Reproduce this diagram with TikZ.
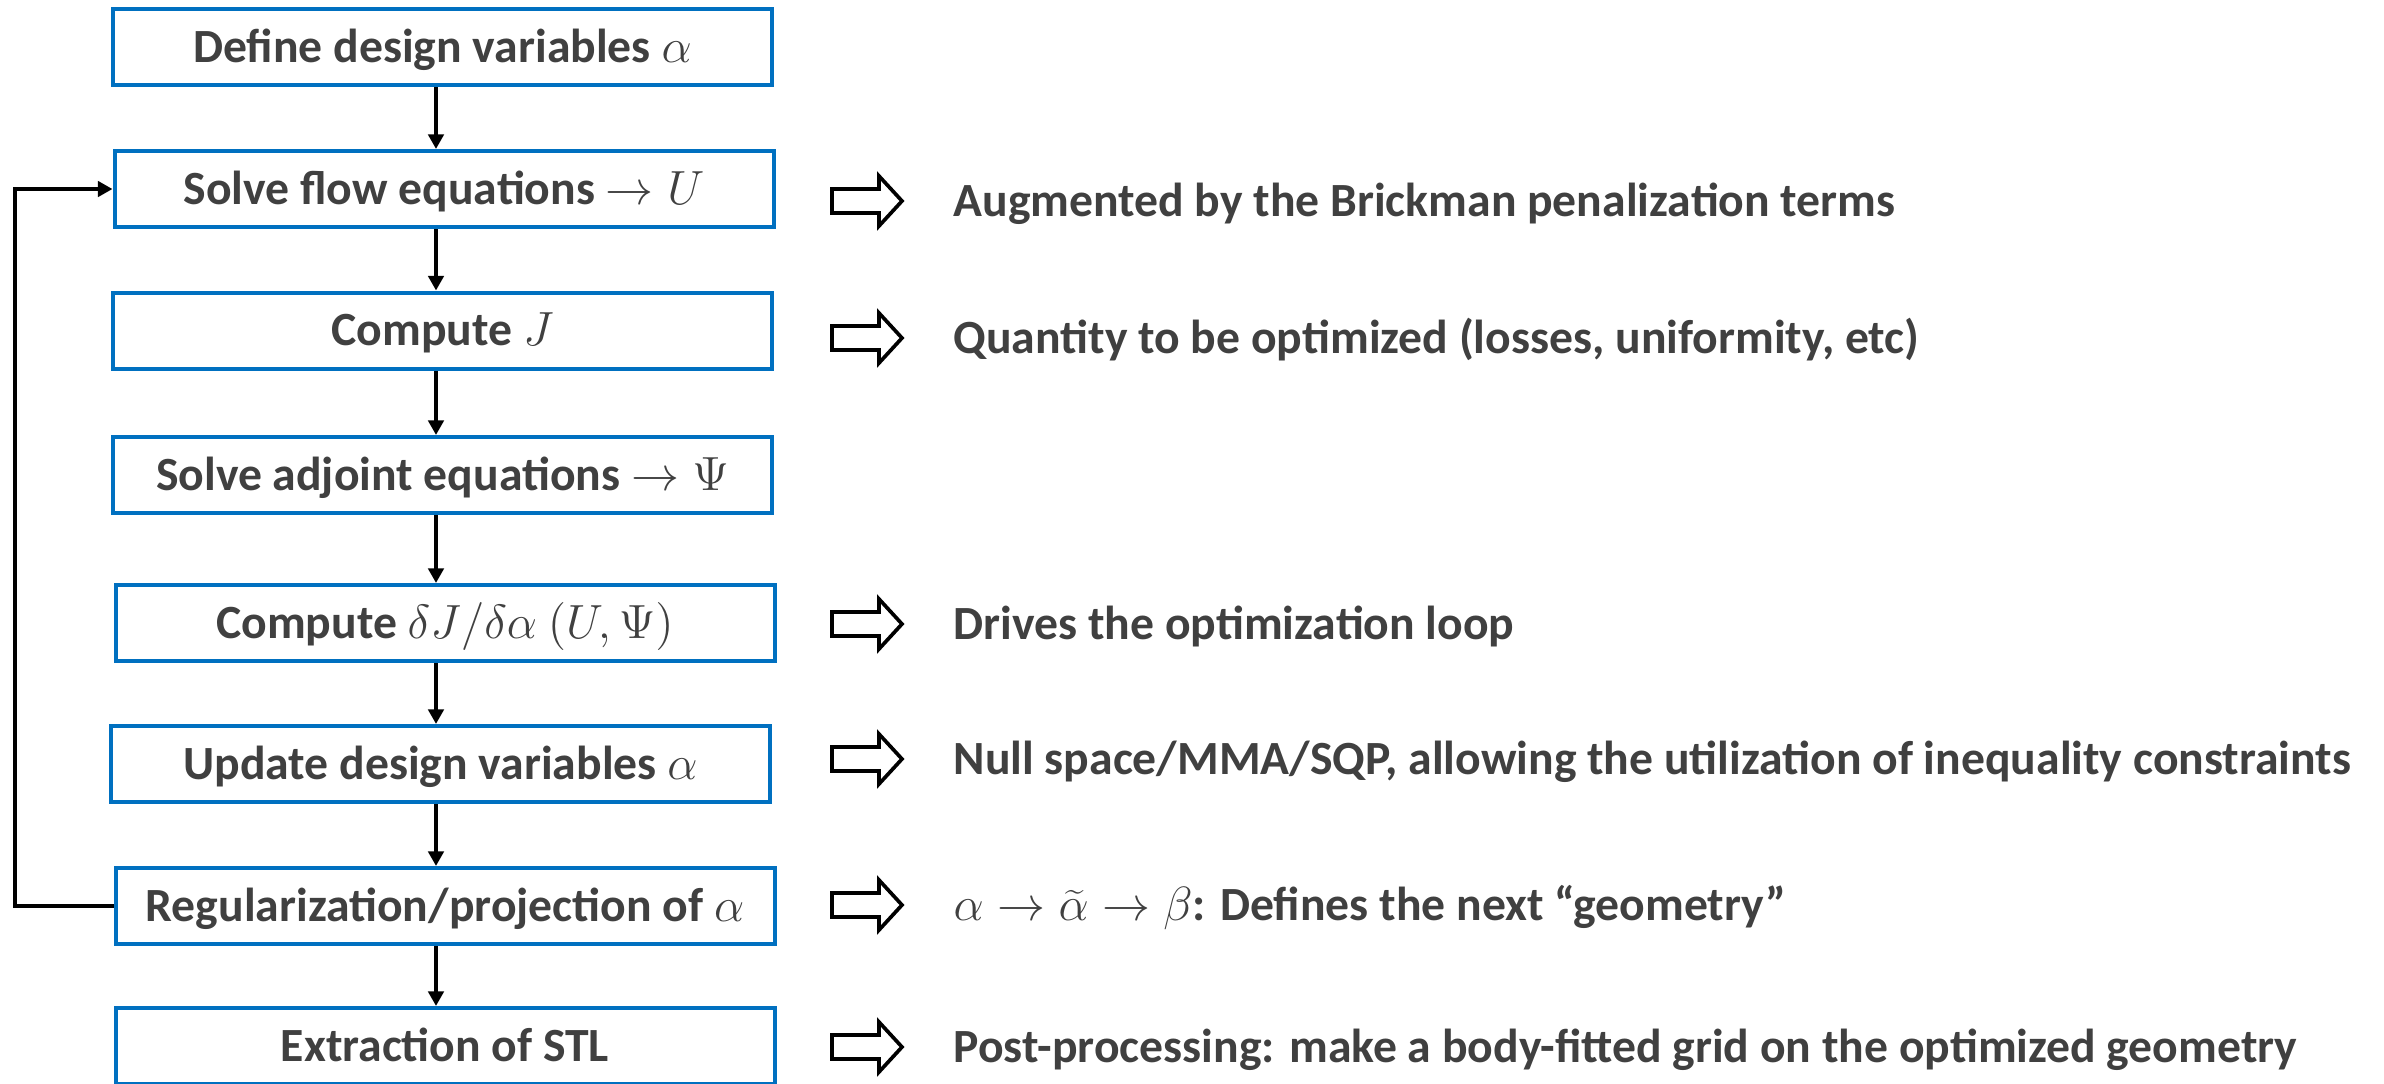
\documentclass[tikz,border=0pt]{standalone}
\usepackage{fontspec}
\setmainfont{Carlito}
\usetikzlibrary{arrows.meta}
\definecolor{boxblue}{HTML}{0070C0}
\definecolor{txt}{HTML}{404040}

\begin{document}
\begin{tikzpicture}[x=0.3pt, y=-0.3pt,
  every node/.style={font=\bfseries\fontsize{14.3pt}{16pt}\selectfont, text=txt,
    inner sep=0pt, text height=9.2pt, text depth=0pt},
  stepbox/.style={draw=boxblue, line width=1.2pt, fill=white,
    minimum width=197.7pt, minimum height=22.8pt},
  flow/.style={draw=black, line width=1.1pt, -{Triangle[width=4.6pt,length=4.4pt]}},
  note/.style={anchor=west},
  hollow/.style={draw=black, line width=1.1pt, fill=white, line join=miter},
  hollowarr/.pic={\draw[hollow] (0,-12) -- (47,-12) -- (47,-25) -- (70,0)
      -- (47,25) -- (47,12) -- (0,12) -- cycle;}
]
\useasboundingbox (0,0) rectangle (2384,1084);

% process steps
\node[stepbox] (b1) at (442.5,47)  {Define design variables $\alpha$};
\node[stepbox] (b2) at (444,189)   {Solve flow equations $\rightarrow U$};
\node[stepbox] (b3) at (442.5,330.5) {Compute $J$};
\node[stepbox] (b4) at (442.5,475) {Solve adjoint equations $\rightarrow \Psi$};
\node[stepbox] (b5) at (445,623)   {Compute $\delta J/\delta\alpha\ (U,\Psi)$};
\node[stepbox] (b6) at (440.5,764) {Update design variables $\alpha$};
\node[stepbox] (b7) at (445,906)   {Regularization/projection of $\alpha$};
\node[stepbox] (b8) at (445,1046)  {Extraction of STL};

% downward flow
\coordinate (ax) at (436,0);
\foreach \a/\b in {b1/b2,b2/b3,b3/b4,b4/b5,b5/b6,b6/b7,b7/b8}
  \draw[flow] (\a.south -| ax) -- (\b.north -| ax);

% optimisation loop back to the flow solver
\coordinate (loopx) at (15,0);
\draw[flow] (b7.west) -- (b7.west -| loopx) |- (b2.west);

% comments on the steps
\pic at (832,201) {hollowarr};
\node[note] (r1) at (953,201) {Augmented by the Brickman penalization terms};
\pic at (832,338) {hollowarr};
\node[note] (r2) at (953,338) {Quantity to be optimized (losses, uniformity, etc)};
\pic at (832,624) {hollowarr};
\node[note] (r3) at (953,624) {Drives the optimization loop};
\pic at (832,759) {hollowarr};
\node[note] (r4) at (953,759) {Null space/MMA/SQP, allowing the utilization of inequality constraints};
\pic at (832,905) {hollowarr};
\node[note] (r5) at (953,905) {$\alpha \rightarrow \widetilde{\alpha} \rightarrow \beta$: Defines the next “geometry”};
\pic at (832,1047) {hollowarr};
\node[note] (r6) at (953,1047) {Post-processing: make a body-fitted grid on the optimized geometry};
\end{tikzpicture}
\end{document}
